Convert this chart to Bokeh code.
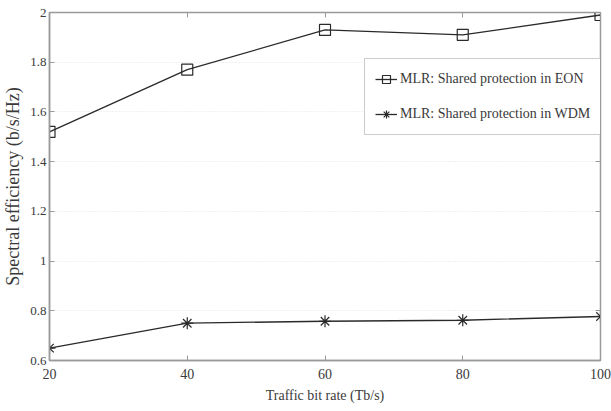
from bokeh.plotting import figure
from bokeh.models import LinearAxis, FixedTicker, Legend, LegendItem, Range1d
from bokeh.embed import file_html
from bokeh.resources import INLINE

traffic = [20, 40, 60, 80, 100]
eon = [1.52, 1.77, 1.93, 1.91, 1.99]
wdm = [0.65, 0.75, 0.758, 0.762, 0.777]
x_ticks = [20, 40, 60, 80, 100]
y_ticks = [0.6, 0.8, 1.0, 1.2, 1.4, 1.6, 1.8, 2.0]
y_labels = {0.6: "0.6", 0.8: "0.8", 1.0: "1", 1.2: "1.2", 1.4: "1.4", 1.6: "1.6", 1.8: "1.8", 2.0: "2"}

FONT = "Liberation Serif"
AX = "#9a9a9a"
TXT = "#3a3a3a"
LINE = "#2a2a2a"

p = figure(width=611, height=410, output_backend="svg", toolbar_location=None,
           x_range=Range1d(20, 100), y_range=Range1d(0.6, 2.0),
           min_border_left=47, min_border_right=11, min_border_top=12, min_border_bottom=50)
p.outline_line_color = AX
p.outline_line_width = 1.5

for ax in (p.xaxis[0], p.yaxis[0]):
    ax.axis_line_color = AX
    ax.axis_line_width = 1.5
    ax.major_tick_line_color = AX
    ax.major_tick_in = 5
    ax.major_tick_out = 0
    ax.minor_tick_line_color = None
    ax.major_label_text_font = FONT
    ax.major_label_text_color = TXT
    ax.axis_label_text_font = FONT
    ax.axis_label_text_font_style = "normal"
    ax.axis_label_text_color = TXT

p.xaxis.ticker = FixedTicker(ticks=x_ticks)
p.yaxis.ticker = FixedTicker(ticks=y_ticks)
p.yaxis.major_label_overrides = y_labels
p.xaxis.axis_label = "Traffic bit rate (Tb/s)"
p.yaxis.axis_label = "Spectral efficiency (b/s/Hz)"
p.xaxis.major_label_text_font_size = "14px"
p.yaxis.major_label_text_font_size = "13px"
p.xaxis.axis_label_text_font_size = "14px"
p.yaxis.axis_label_text_font_size = "18px"
p.xaxis.major_label_standoff = 8
p.yaxis.major_label_standoff = 3
p.xaxis.axis_label_standoff = 6
p.yaxis.axis_label_standoff = 4

top = LinearAxis(ticker=FixedTicker(ticks=x_ticks),
                 major_label_overrides={t: "" for t in x_ticks}, major_label_standoff=0,
                 major_tick_in=5, major_tick_out=0, axis_line_color=AX,
                 major_tick_line_color=AX, minor_tick_line_color=None)
p.add_layout(top, "above")
right = LinearAxis(ticker=FixedTicker(ticks=y_ticks),
                   major_label_overrides={t: "" for t in y_ticks}, major_label_standoff=0,
                   major_tick_in=5, major_tick_out=0, axis_line_color=AX,
                   major_tick_line_color=AX, minor_tick_line_color=None)
p.add_layout(right, "right")

p.xgrid.visible = False
p.ygrid.ticker = FixedTicker(ticks=y_ticks)
p.ygrid.grid_line_color = "#e2e2e2"
p.ygrid.grid_line_dash = "1 2"

l1 = p.line(traffic, eon, line_color=LINE, line_width=1.3)
m1 = p.scatter(traffic, eon, marker="square", size=11, fill_color="white", fill_alpha=0,
               line_color=LINE, line_width=1.2)
l2 = p.line(traffic, wdm, line_color=LINE, line_width=1.3)
m2 = p.scatter(traffic, wdm, marker="asterisk", size=12, line_color=LINE, line_width=1.2)

legend = Legend(items=[
    LegendItem(label="MLR: Shared protection in EON", renderers=[l1, m1]),
    LegendItem(label="MLR: Shared protection in WDM", renderers=[l2, m2]),
], location=(315, 225))
legend.label_text_font = FONT
legend.label_text_font_size = "14px"
legend.label_text_color = TXT
legend.border_line_color = AX
legend.border_line_width = 1.2
legend.glyph_width = 22
legend.glyph_height = 20
legend.spacing = 15
legend.padding = 10
legend.margin = 0
legend.label_standoff = 3
legend.background_fill_alpha = 1
p.add_layout(legend, "center")

open("out.html", "w").write(file_html(p, INLINE))
